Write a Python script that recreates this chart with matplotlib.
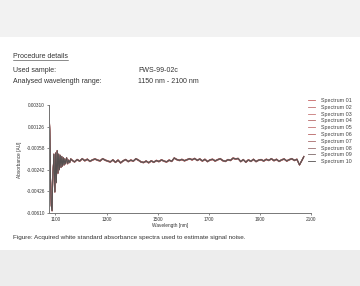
import matplotlib
matplotlib.use("Agg")
import matplotlib.pyplot as plt
from matplotlib.patches import Rectangle
from matplotlib.lines import Line2D

plt.rcParams['font.family'] = ['Liberation Sans', 'DejaVu Sans']

# --- data ---
wavelength = [1075, 1078, 1081, 1084, 1087, 1090, 1094, 1098, 1101, 1104,
              1107, 1110, 1113, 1116, 1119, 1122, 1125, 1128, 1131, 1134,
              1137, 1140, 1144, 1148, 1152, 1156, 1160,
              1165, 1175, 1185, 1195, 1205, 1215, 1225, 1235, 1245, 1255,
              1265, 1275, 1285, 1295, 1305, 1315, 1325, 1335, 1345, 1355,
              1365, 1375, 1385, 1395, 1405, 1415, 1425, 1435, 1445, 1455,
              1465, 1475, 1485, 1495, 1505, 1515, 1525, 1535, 1545, 1555,
              1565, 1575, 1585, 1595, 1605, 1615, 1625, 1635, 1645, 1655,
              1665, 1675, 1685, 1695, 1705, 1715, 1725, 1735, 1745, 1755,
              1765, 1775, 1785, 1795, 1805, 1815, 1825, 1835, 1845, 1855,
              1865, 1875, 1885, 1895, 1905, 1915, 1925, 1935, 1945, 1955,
              1965, 1975, 1985, 1995, 2005, 2015, 2025, 2035, 2045, 2055,
              2065, 2072]
absorbance = [0.00310, 0.00100, -0.00300, -0.00550, -0.00590, -0.00300, -0.00110, -0.00430, -0.00100, -0.00350,
              -0.00080, -0.00270, -0.00110, -0.00240, -0.00120, -0.00220, -0.00130, -0.00210, -0.00140, -0.00200,
              -0.00150, -0.00190, -0.00140, -0.00190, -0.00160, -0.00180, -0.00150,
              -0.00160, -0.00175, -0.00155, -0.00168, -0.00148, -0.00165, -0.00152, -0.00170, -0.00158, -0.00150,
              -0.00160, -0.00166, -0.00148, -0.00160, -0.00168, -0.00175, -0.00158, -0.00178, -0.00160, -0.00183,
              -0.00166, -0.00155, -0.00172, -0.00160, -0.00168, -0.00148, -0.00160, -0.00175, -0.00180, -0.00168,
              -0.00182, -0.00166, -0.00178, -0.00163, -0.00172, -0.00158, -0.00168, -0.00175, -0.00160, -0.00170,
              -0.00142, -0.00155, -0.00162, -0.00154, -0.00165, -0.00156, -0.00148, -0.00157, -0.00146, -0.00162,
              -0.00150, -0.00167, -0.00153, -0.00172, -0.00158, -0.00153, -0.00167, -0.00156, -0.00148, -0.00164,
              -0.00170, -0.00156, -0.00162, -0.00143, -0.00150, -0.00146, -0.00172, -0.00156, -0.00177, -0.00158,
              -0.00170, -0.00153, -0.00172, -0.00160, -0.00156, -0.00167, -0.00153, -0.00162, -0.00148, -0.00164,
              -0.00153, -0.00170, -0.00158, -0.00150, -0.00167, -0.00156, -0.00148, -0.00162, -0.00153, -0.00200,
              -0.00160, -0.00130]
spectrum_names = ['Spectrum %02d' % i for i in range(1, 11)]
spectrum_offsets = [0.00004, -0.00003, 0.00002, -0.00004, 0.00003,
                    -0.00002, 0.00001, -0.00001, 0.00002, 0.0]
spectrum_colors = ['#c86464', '#c07070', '#c87878', '#b86a6a', '#c47272',
                   '#b86464', '#a86c6c', '#9a7070', '#7e6a6a', '#555050']
y_ticks = [0.00310, 0.00126, -0.00058, -0.00242, -0.00426, -0.00610]
x_ticks = [1100, 1300, 1500, 1700, 1900, 2100]

W, H = 360, 286
fig = plt.figure(figsize=(W / 100, H / 100), dpi=100, facecolor='white')

# page background (photographed document: grey bands top and bottom)
fig.patches.append(Rectangle((0, 1 - 37 / H), 1, 37 / H, transform=fig.transFigure,
                             facecolor='#f2f2f2', edgecolor='none', zorder=0))
fig.patches.append(Rectangle((0, 0), 1, 36 / H, transform=fig.transFigure,
                             facecolor='#ededed', edgecolor='none', zorder=0))

def px(x, y):
    return x / W, 1 - y / H

# header block
txt_col = '#333333'
head = fig.text(*px(13, 56), 'Procedure details', fontsize=5.0, color=txt_col, va='center')
fig.text(*px(13, 71), 'Used sample:', fontsize=5.0, color=txt_col, va='center')
fig.text(*px(13, 81.5), 'Analysed wavelength range:', fontsize=5.0, color=txt_col, va='center')
fig.text(*px(138, 71), 'FWS-99-02c', fontsize=5.0, color=txt_col, va='center')
fig.text(*px(138, 81.5), '1150 nm - 2100 nm', fontsize=5.0, color=txt_col, va='center')
fig.text(*px(13, 237), 'Figure: Acquired white standard absorbance spectra used to estimate signal noise.',
         fontsize=4.6, color=txt_col, va='center')

# axes
ax = fig.add_axes([49 / W, 1 - 213 / H, (311 - 49) / W, (213 - 105) / H])
ax.set_facecolor('none')
for i, name in enumerate(spectrum_names):
    vals = [a + spectrum_offsets[i] for a in absorbance]
    ax.plot(wavelength, vals, color=spectrum_colors[i], lw=0.6, label=name)

ax.set_xlim(1075, 2100)
ax.set_ylim(-0.0061, 0.0031)
ax.set_xticks(x_ticks)
ax.set_yticks(y_ticks)
ax.set_yticklabels(['%.5f' % v for v in y_ticks])
ax.tick_params(labelsize=3.4, length=1.5, width=0.5, pad=1.5, colors='#555555', labelcolor='#333333')
for s in ['top', 'right']:
    ax.spines[s].set_visible(False)
for s in ['left', 'bottom']:
    ax.spines[s].set_linewidth(0.7)
    ax.spines[s].set_color('#777777')

fig.text(*px(170, 225), 'Wavelength [nm]', fontsize=3.4, color='#333333', ha='center', va='center')
fig.text(*px(20, 160), 'Absorbance [AU]', fontsize=3.4, color='#333333', ha='center', va='center',
         rotation=90)

ax.legend(loc='upper left', bbox_to_anchor=px(308, 98), bbox_transform=fig.transFigure,
          frameon=False, fontsize=3.9, handlelength=1.3, handletextpad=1.1,
          labelspacing=0.33, borderpad=0, borderaxespad=0, labelcolor='#444444')

# underline for the header title
fig.canvas.draw()
bb = head.get_window_extent()
fig.add_artist(Line2D([bb.x0 / W, bb.x1 / W], [(bb.y0 - 0.5) / H] * 2,
                      transform=fig.transFigure, color=txt_col, lw=0.4))

fig.savefig('out.png', dpi=100, facecolor=fig.get_facecolor())
